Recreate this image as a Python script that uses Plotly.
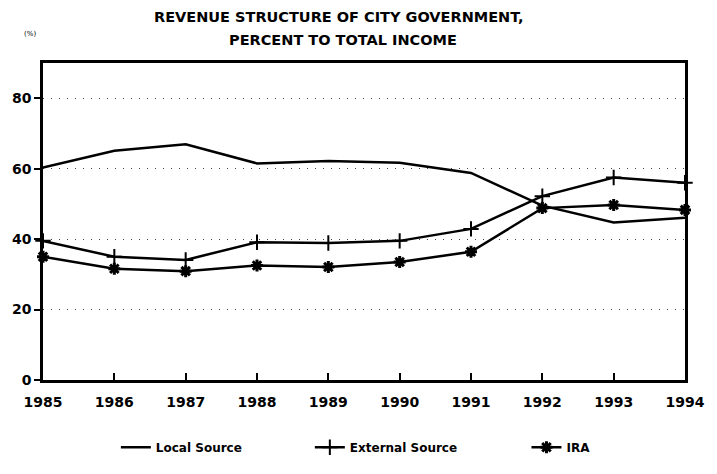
import plotly.graph_objects as go

years = [1985, 1986, 1987, 1988, 1989, 1990, 1991, 1992, 1993, 1994]
local_source = [60.3, 65.1, 66.9, 61.5, 62.2, 61.7, 58.8, 49.5, 44.7, 46.1]
external_source = [39.5, 35.0, 34.1, 39.1, 38.9, 39.5, 42.9, 52.2, 57.5, 56.0]
ira = [35.0, 31.6, 30.9, 32.5, 32.1, 33.5, 36.4, 48.8, 49.7, 48.3]
y_ticks = [0, 20, 40, 60, 80]

FONT = "DejaVu Sans"
W, H = 717, 474
L, R, T, B = 40, 25, 63, 81
PW, PH = W - L - R, H - T - B

def px_x(px):
    return (px - L) / PW

def px_y(py):
    return (H - B - py) / PH

fig = go.Figure()
fig.add_trace(go.Scatter(x=years, y=local_source, mode="lines", name="<b>Local Source</b>",
                         line=dict(color="black", width=2.5), cliponaxis=False, legend="legend"))
fig.add_trace(go.Scatter(x=years, y=external_source, mode="lines+markers", name="<b>External Source</b>",
                         line=dict(color="black", width=2.5),
                         marker=dict(symbol="cross-thin-open", size=11, line=dict(color="black", width=2)),
                         cliponaxis=False, legend="legend2"))
fig.add_trace(go.Scatter(x=years, y=ira, mode="lines+markers", name="<b>IRA</b>",
                         line=dict(color="black", width=2.5),
                         marker=dict(symbol="asterisk-open", size=10, line=dict(color="black", width=3)),
                         cliponaxis=False, legend="legend3"))

leg_common = dict(orientation="h", yanchor="middle", y=px_y(463), xanchor="left",
                  font=dict(size=12, family=FONT, color="black"),
                  bgcolor="rgba(0,0,0,0)", itemwidth=30)

fig.update_layout(
    width=W, height=H,
    margin=dict(l=L, r=R, t=T, b=B),
    paper_bgcolor="white", plot_bgcolor="white",
    font=dict(family=FONT, color="black"),
    showlegend=True,
    legend=dict(leg_common, x=px_x(114)),
    legend2=dict(leg_common, x=px_x(311)),
    legend3=dict(leg_common, x=px_x(531)),
    annotations=[
        dict(text="<b>REVENUE STRUCTURE OF CITY GOVERNMENT,</b>", xref="paper", yref="paper",
             x=px_x(341), y=px_y(15), xanchor="center", yanchor="middle", showarrow=False,
             font=dict(size=14.5, family=FONT, color="black")),
        dict(text="<b>PERCENT TO TOTAL INCOME</b>", xref="paper", yref="paper",
             x=px_x(345), y=px_y(39), xanchor="center", yanchor="middle", showarrow=False,
             font=dict(size=14.5, family=FONT, color="black")),
        dict(text="(%)", xref="paper", yref="paper", x=px_x(27), y=px_y(33),
             xanchor="center", yanchor="middle", showarrow=False,
             font=dict(size=7, family=FONT, color="black")),
    ],
)
fig.update_xaxes(range=[1985, 1994], tickvals=years, ticktext=[f"<b>{y}</b>" for y in years],
                 showline=True, linecolor="black", linewidth=2.5, mirror=True,
                 ticks="inside", ticklen=7, tickcolor="black", tickwidth=2,
                 ticklabelstandoff=7,
                 showgrid=False, zeroline=False, tickfont=dict(size=14, family=FONT, color="black"))
fig.update_yaxes(range=[0, 90], tickvals=y_ticks, ticktext=[f"<b>{v}</b>" for v in y_ticks],
                 showline=True, linecolor="black", linewidth=2.5, mirror=True,
                 ticks="outside", ticklen=6, tickcolor="black", tickwidth=2,
                 showgrid=True, gridcolor="#444444", griddash="1px,7px", gridwidth=1,
                 zeroline=False, tickfont=dict(size=14, family=FONT, color="black"))

fig.write_html("out.html", config={"displayModeBar": False},
               post_script="document.body.style.margin='0';document.body.style.overflow='hidden';")
